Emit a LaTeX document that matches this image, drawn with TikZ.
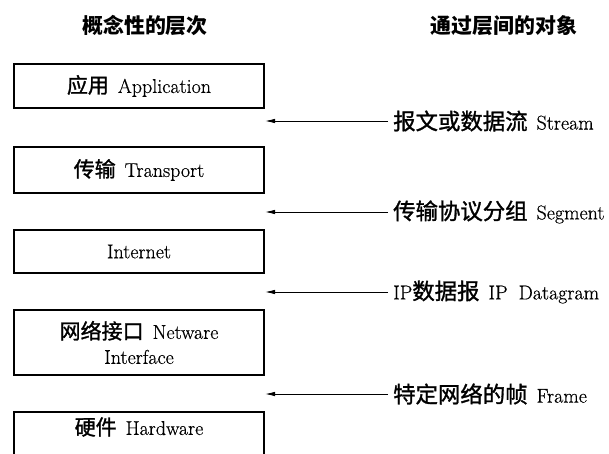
\documentclass[tikz,border=0pt]{standalone}
\usepackage{fontspec}
\setmainfont{Latin Modern Roman}[FakeBold=0.5]
\newfontfamily\cjkfont[Scale=1.05, FakeBold=1.3]{Noto Sans CJK SC}
\newfontfamily\cjklabel[Scale=1.12, FakeBold=1.3]{Noto Sans CJK SC}
\newfontfamily\cjkhead[Scale=1.1]{Noto Sans CJK SC}
\newcommand{\zhtxt}[1]{{\cjkfont #1}}
\newcommand{\zhlab}[1]{{\cjklabel #1}}
\newcommand{\zsp}{\hspace{9pt}}
\usetikzlibrary{arrows.meta}
\tikzset{
  layerbox/.style={draw, line width=1.2pt, minimum width=250pt, inner sep=0pt, align=center,
    font=\fontsize{20}{25}\selectfont},
  layertext/.style={inner sep=0pt, font=\fontsize{20}{25}\selectfont},
  heading/.style={inner sep=0pt, font=\fontsize{19}{24}\selectfont\cjkhead\bfseries},
  objlabel/.style={inner sep=0pt, anchor=west, font=\fontsize{20}{24}\selectfont},
  passarrow/.style={-{Latex[length=10pt,width=4.5pt]}, line width=0.9pt, shorten <=5pt}
}
\begin{document}
\begin{tikzpicture}[x=1pt,y=-1pt]
\useasboundingbox (0,0) rectangle (609,454);
% headings
\node[heading] (h1) at (145,26) {概念性的层次};
\node[heading] (h2) at (504,26) {通过层间的对象};
% layer boxes
\node[layerbox, minimum height=44pt] (app) at (139,86) {\zhtxt{应用}\zsp Application};
\node[layerbox, minimum height=46pt] (tra) at (139,170) {\zhtxt{传输}\zsp Transport};
\node[layerbox, minimum height=43pt] (inet) at (139,251.5) {Internet};
\node[layerbox, minimum height=65pt] (nif) at (139,342.5) {\zhtxt{网络接口}\zsp Netware\\Interface};
% hardware box (cut off at bottom)
\coordinate (hwbl) at (14,455);
\coordinate (hwtl) at (14,412);
\coordinate (hwtr) at (264,412);
\coordinate (hwbr) at (264,455);
\draw[line width=1.2pt] (hwbl) -- (hwtl) -- (hwtr) -- (hwbr);
\node[layertext] (hw) at (139,427) {\zhtxt{硬件}\zsp Hardware};
% objects passed between layers
\node[objlabel] (l1) at (393,121) {\zhlab{报文或数据流}\zsp Stream};
\node[objlabel] (l2) at (393,212) {\zhlab{传输协议分组}\zsp Segment};
\node[objlabel] (l3) at (393,292) {IP\zhlab{数据报}\zsp IP\hspace{5pt} Datagram};
\node[objlabel] (l4) at (393,394) {\zhlab{特定网络的帧}\zsp Frame};
\coordinate (t1) at (265,121);
\coordinate (t2) at (265,212);
\coordinate (t3) at (265,292);
\coordinate (t4) at (265,394);
\draw[passarrow] (l1.west) -- (t1);
\draw[passarrow] (l2.west) -- (t2);
\draw[passarrow] (l3.west) -- (t3);
\draw[passarrow] (l4.west) -- (t4);
\end{tikzpicture}
\end{document}
